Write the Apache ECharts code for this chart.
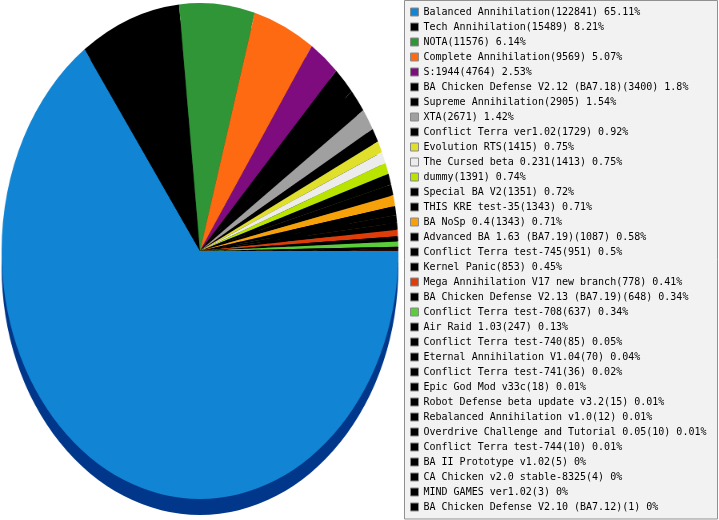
<!DOCTYPE html>
<html>
<head>
<meta charset="utf-8">
<title>Mods</title>
<script src="https://cdn.jsdelivr.net/npm/echarts@6/dist/echarts.min.js"></script>
<style>
html, body { margin: 0; padding: 0; background: #fff; overflow: hidden; }
#pie { position: absolute; left: -50px; top: 0; width: 500px; height: 520px;
       transform: scaleX(0.8); transform-origin: 250px 251px; }
#legend { position: absolute; left: 400px; top: 0; width: 319px; height: 520px; }
</style>
</head>
<body>
<div id="pie"></div>
<div id="legend"></div>
<script>
var names = [
    'Balanced Annihilation', 'Tech Annihilation', 'NOTA', 'Complete Annihilation', 'S:1944',
    'BA Chicken Defense V2.12 (BA7.18)', 'Supreme Annihilation', 'XTA', 'Conflict Terra ver1.02',
    'Evolution RTS', 'The Cursed beta 0.231', 'dummy', 'Special BA V2', 'THIS KRE test-35',
    'BA NoSp 0.4', 'Advanced BA 1.63 (BA7.19)', 'Conflict Terra test-745', 'Kernel Panic',
    'Mega Annihilation V17 new branch', 'BA Chicken Defense V2.13 (BA7.19)', 'Conflict Terra test-708',
    'Air Raid 1.03', 'Conflict Terra test-740', 'Eternal Annihilation V1.04', 'Conflict Terra test-741',
    'Epic God Mod v33c', 'Robot Defense beta update v3.2', 'Rebalanced Annihilation v1.0',
    'Overdrive Challenge and Tutorial 0.05', 'Conflict Terra test-744', 'BA II Prototype v1.02',
    'CA Chicken v2.0 stable-8325', 'MIND GAMES ver1.02', 'BA Chicken Defense V2.10 (BA7.12)'
];
var values = [
    122841, 15489, 11576, 9569, 4764, 3400, 2905, 2671, 1729, 1415, 1413, 1391, 1351, 1343,
    1343, 1087, 951, 853, 778, 648, 637, 247, 85, 70, 36, 18, 15, 12, 10, 10, 5, 4, 3, 1
];
var colors = [
    '#1184d4', '#000000', '#2f9536', '#fd6a12', '#7f0c7f', '#000000', '#000000', '#a0a0a0',
    '#000000', '#e0e02c', '#ececec', '#b9e400', '#000000', '#000000', '#f7a10a', '#000000',
    '#000000', '#000000', '#de3d0a', '#000000', '#5ccd3a', '#000000', '#000000', '#000000',
    '#000000', '#000000', '#000000', '#000000', '#000000', '#000000', '#000000', '#000000',
    '#000000', '#000000'
];

var total = values.reduce(function (a, b) { return a + b; }, 0);

// darker shade for the 3d edge
function shade(hex) {
    if (hex === '#1184d4') return '#00378a';
    var n = parseInt(hex.slice(1), 16);
    var r = Math.round(((n >> 16) & 255) * 0.5), g = Math.round(((n >> 8) & 255) * 0.5), b = Math.round((n & 255) * 0.5);
    return 'rgb(' + r + ',' + g + ',' + b + ')';
}

function pieData(dark) {
    return names.map(function (n, i) {
        return { name: n, value: values[i], itemStyle: { color: dark ? shade(colors[i]) : colors[i] } };
    });
}

var pieBase = {
    type: 'pie',
    radius: 248,
    startAngle: 0,
    clockwise: true,
    silent: true,
    avoidLabelOverlap: false,
    label: { show: false },
    labelLine: { show: false },
    emphasis: { disabled: true },
    itemStyle: { borderWidth: 0 }
};

var chartPie = echarts.init(document.getElementById('pie'));
chartPie.setOption({
    animation: false,
    series: [
        Object.assign({}, pieBase, { center: [250, 267], data: pieData(true), z: 1 }),
        Object.assign({}, pieBase, { center: [250, 251], data: pieData(false), z: 2 })
    ]
});

var chartLegend = echarts.init(document.getElementById('legend'));
chartLegend.setOption({
    animation: false,
    graphic: [{
        type: 'rect',
        shape: { x: 4.5, y: 0.5, width: 313, height: 518.5 },
        style: { fill: '#f2f2f2', stroke: '#909090', lineWidth: 1 },
        z: -10
    }],
    legend: {
        orient: 'vertical',
        left: 10,
        top: 7,
        padding: 0,
        itemGap: 5,
        itemWidth: 8,
        itemHeight: 8,
        icon: 'rect',
        selectedMode: false,
        itemStyle: { borderColor: '#8a8a8a', borderWidth: 1 },
        textStyle: { fontFamily: 'DejaVu Sans Mono', fontSize: 10, color: '#000', lineHeight: 10 },
        data: names,
        formatter: function (name) {
            var i = names.indexOf(name);
            return name + '(' + values[i] + ') ' + (+(values[i] / total * 100).toFixed(2)) + '%';
        }
    },
    series: [Object.assign({}, pieBase, { radius: 0, center: [-50, -50], data: pieData(false) })]
});
</script>
</body>
</html>
